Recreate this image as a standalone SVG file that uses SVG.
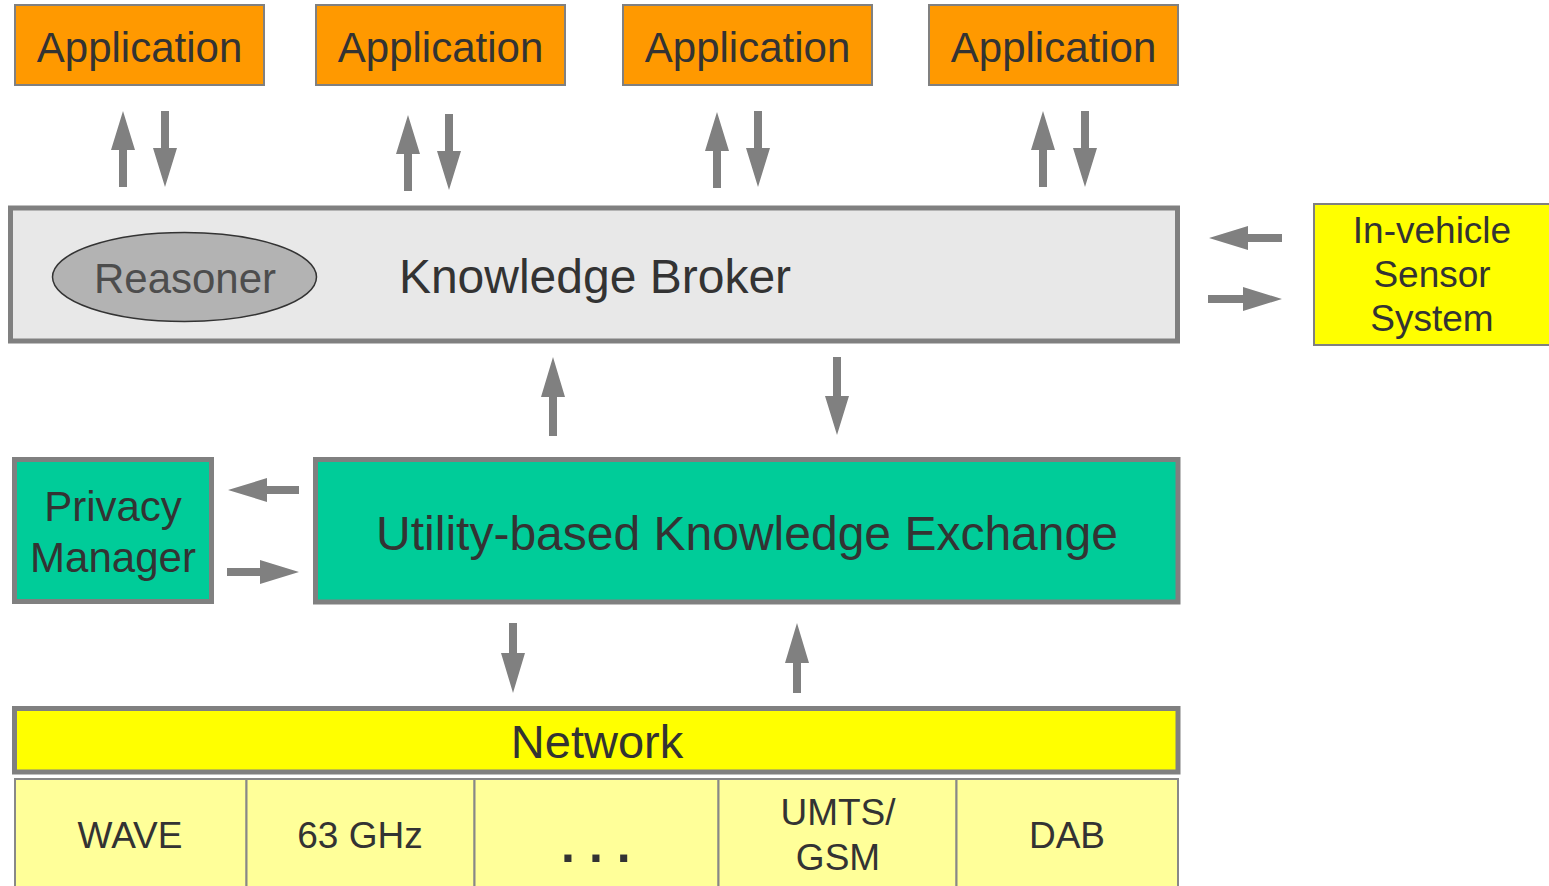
<svg xmlns="http://www.w3.org/2000/svg" width="1549" height="886" viewBox="0 0 1549 886">
<style>
.box{stroke:#808080;stroke-width:2}
.thick{stroke:#808080;stroke-width:5}
.t{font-family:"Liberation Sans",Arial,sans-serif;fill:#333333;text-anchor:middle}
.arr{fill:#808080}
.cell{fill:#FFFF99;stroke:#888888;stroke-width:2}
</style>
<rect width="1549" height="886" fill="#FFFFFF"/>
<g id="app1"><rect class="box" x="15" y="5" width="249" height="80" fill="#FF9900"/><text class="t" x="139.5" y="62" font-size="42">Application</text></g>
<g id="app2"><rect class="box" x="316" y="5" width="249" height="80" fill="#FF9900"/><text class="t" x="440.5" y="62" font-size="42">Application</text></g>
<g id="app3"><rect class="box" x="623" y="5" width="249" height="80" fill="#FF9900"/><text class="t" x="747.5" y="62" font-size="42">Application</text></g>
<g id="app4"><rect class="box" x="929" y="5" width="249" height="80" fill="#FF9900"/><text class="t" x="1053.5" y="62" font-size="42">Application</text></g>
<g id="broker"><rect class="thick" x="10.5" y="208" width="1167" height="133" fill="#E8E8E8"/><text class="t" x="595" y="293" font-size="48">Knowledge Broker</text></g>
<g id="reasoner"><ellipse cx="184.5" cy="277" rx="132" ry="44.5" fill="#B3B3B3" stroke="#333333" stroke-width="1.5"/><text class="t" x="185" y="293" font-size="42" style="fill:#4D4D4D">Reasoner</text></g>
<g id="sensor"><rect class="box" x="1314" y="204" width="240" height="141" fill="#FFFF00"/><text class="t" x="1432" y="243" font-size="37">In-vehicle</text><text class="t" x="1432" y="287" font-size="37">Sensor</text><text class="t" x="1432" y="331" font-size="37">System</text></g>
<g id="privacy"><rect class="thick" x="14.5" y="459.5" width="197" height="142" fill="#00CC99"/><text class="t" x="113" y="521" font-size="42">Privacy</text><text class="t" x="113" y="572" font-size="42">Manager</text></g>
<g id="exchange"><rect class="thick" x="315.5" y="459.5" width="862.5" height="142.5" fill="#00CC99"/><text class="t" x="747" y="550" font-size="48">Utility-based Knowledge Exchange</text></g>
<g id="network"><rect class="thick" x="14.5" y="708.5" width="1163.5" height="63.5" fill="#FFFF00"/><text class="t" x="597" y="758" font-size="47">Network</text></g>
<g id="wave"><rect class="cell" x="15" y="779" width="231.5" height="120"/><text class="t" x="130" y="848" font-size="37">WAVE</text></g>
<g id="ghz"><rect class="cell" x="246.5" y="779" width="228" height="120"/><text class="t" x="360" y="848" font-size="37">63 GHz</text></g>
<g id="dots"><rect class="cell" x="474.5" y="779" width="244" height="120"/><text x="561" y="862" font-size="50" font-weight="bold" letter-spacing="14" style="font-family:'Liberation Sans',Arial,sans-serif;fill:#333333">...</text></g>
<g id="umts"><rect class="cell" x="718.5" y="779" width="238" height="120"/><text class="t" x="838" y="825" font-size="37">UMTS/</text><text class="t" x="838" y="870" font-size="37">GSM</text></g>
<g id="dab"><rect class="cell" x="956.5" y="779" width="221.5" height="120"/><text class="t" x="1067" y="848" font-size="37">DAB</text></g>
<g id="connectors" class="arr">
<polygon points="123,111 135,150 127,150 127,187 119,187 119,150 111,150"/>
<polygon points="165,187 177,148 169,148 169,111 161,111 161,148 153,148"/>
<polygon points="408,115 420,154 412,154 412,191 404,191 404,154 396,154"/>
<polygon points="449,190 461,151 453,151 453,114 445,114 445,151 437,151"/>
<polygon points="717,112 729,151 721,151 721,188 713,188 713,151 705,151"/>
<polygon points="758,187 770,148 762,148 762,111 754,111 754,148 746,148"/>
<polygon points="1043,111 1055,150 1047,150 1047,187 1039,187 1039,150 1031,150"/>
<polygon points="1085,187 1097,148 1089,148 1089,111 1081,111 1081,148 1073,148"/>
<polygon points="1209,238 1248,226 1248,234 1282,234 1282,242 1248,242 1248,250"/>
<polygon points="1282,299 1243,287 1243,295 1208,295 1208,303 1243,303 1243,311"/>
<polygon points="553,357 565,397 557,397 557,436 549,436 549,397 541,397"/>
<polygon points="837,435 849,396 841,396 841,357 833,357 833,396 825,396"/>
<polygon points="228,490 267,478 267,486 299,486 299,494 267,494 267,502"/>
<polygon points="299,572 260,560 260,568 227,568 227,576 260,576 260,584"/>
<polygon points="513,693 525,653 517,653 517,623 509,623 509,653 501,653"/>
<polygon points="797,623 809,663 801,663 801,693 793,693 793,663 785,663"/>
</g>
</svg>
